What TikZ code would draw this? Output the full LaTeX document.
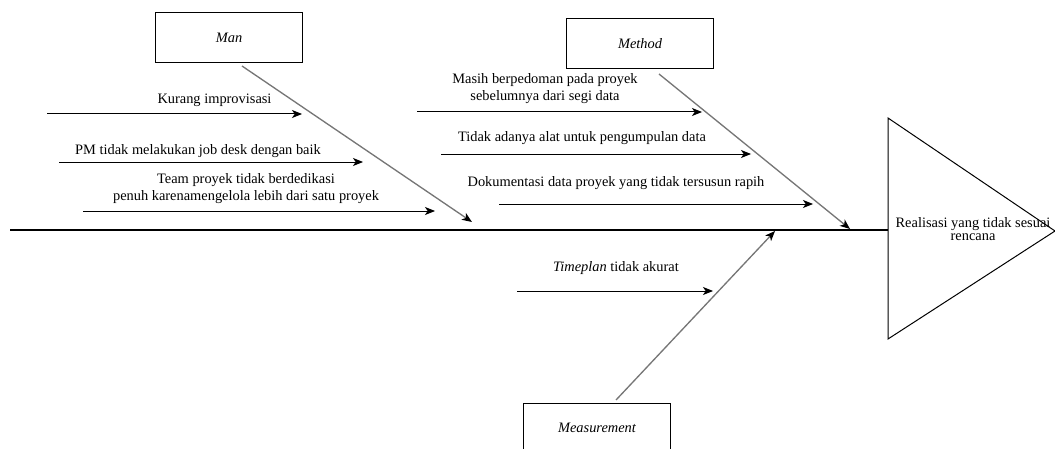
\documentclass[tikz,border=0pt]{standalone}
\usepackage{fontspec}
\setmainfont{Liberation Serif}
\usetikzlibrary{arrows.meta}
\tikzset{every picture/.style={line width=0.75pt}}
\tikzset{
  causearrow/.style={-{Stealth[length=7.5pt,width=6pt,inset=2pt]}},
  bonearrow/.style={color={rgb, 255:red, 118; green, 118; blue, 118}, line width=1pt,
    -{Stealth[length=7.5pt,width=6pt,inset=2pt,color=black]}},
  catbox/.style={draw, minimum width=110pt, minimum height=37.5pt, inner sep=0pt,
    font=\fontsize{10.8}{12}\selectfont\itshape},
  causetext/.style={align=center, inner sep=0pt, font=\fontsize{10.8}{12.75}\selectfont},
}

\begin{document}
\begin{tikzpicture}[x=0.75pt,y=0.75pt,yscale=-1,xscale=1]
		\useasboundingbox (0,0) rectangle (1055,449); %set diagram size 1055 x 449
		
		%Shape: Rectangle [id:dp2218730461195]
		\node [catbox] (man) at (229,38) {Man};
		%Shape: Rectangle [id:dp7730158402216]
		\node [catbox] (method) at (640,44) {Method};
		%Shape: Rectangle [id:dp5093361127784]
		\node [catbox] (measure) at (597,428) {Measurement};
		
		%Shape: Triangle [id:dp4419602736158]
		\draw (888,118) -- (1055,231) -- (888,339) -- cycle ;
		\coordinate (head) at (888,230);
		\node [causetext, font=\fontsize{10.8}{9.6}\selectfont] (effect) at (973,229) {Realisasi yang tidak sesuai\\rencana};
		
		%Straight Lines [id:da3301845527106] 
		\coordinate (tail) at (10,230);
		\draw [line width=1pt] (tail) -- (head) ;
		
		%Straight Lines [id:da8105537390214] 
		\coordinate (manfoot) at (242,66);
		\coordinate (mantip) at (472,222);
		\draw [bonearrow] (manfoot) -- (mantip) ;
		
		%Straight Lines [id:da6620943185571] 
		\coordinate (methodfoot) at (659,74);
		\coordinate (methodtip) at (850,229);
		\draw [bonearrow] (methodfoot) -- (methodtip) ;
		
		%Straight Lines [id:da1957026483302] 
		\coordinate (measurefoot) at (616,400);
		\coordinate (measuretip) at (775,231);
		\draw [bonearrow] (measurefoot) -- (measuretip) ;
		
		%Straight Lines [id:da4871203356612] 
		\coordinate (improvfrom) at (47,114);
		\coordinate (improvto) at (302,114);
		\draw [causearrow] (improvfrom) -- (improvto) ;
		\node [causetext, anchor=base] (improv) at (214.5,104) {Kurang improvisasi};
		
		%Straight Lines [id:da9034127765118] 
		\coordinate (jobfrom) at (59,162);
		\coordinate (jobto) at (363,162);
		\draw [causearrow] (jobfrom) -- (jobto) ;
		\node [causetext, anchor=base] (jobdesk) at (198,155) {PM tidak melakukan job desk dengan baik};
		
		%Straight Lines [id:da2745619083361] 
		\coordinate (teamfrom) at (83,211);
		\coordinate (teamto) at (435,211);
		\draw [causearrow] (teamfrom) -- (teamto) ;
		\node [causetext] (team) at (246,188.5) {Team proyek tidak berdedikasi\\penuh karenamengelola lebih dari satu proyek};
		
		%Straight Lines [id:da5582930714476] 
		\coordinate (oldfrom) at (417,112);
		\coordinate (oldto) at (702,112);
		\draw [causearrow] (oldfrom) -- (oldto) ;
		\node [causetext] (oldproj) at (545,89) {Masih berpedoman pada proyek\\sebelumnya dari segi data};
		
		%Straight Lines [id:da0396617258840] 
		\coordinate (toolfrom) at (441,154);
		\coordinate (toolto) at (751,154);
		\draw [causearrow] (toolfrom) -- (toolto) ;
		\node [causetext, anchor=base] (tool) at (582,141.5) {Tidak adanya alat untuk pengumpulan data};
		
		%Straight Lines [id:da7713259040825] 
		\coordinate (docfrom) at (499,204);
		\coordinate (docto) at (813,204);
		\draw [causearrow] (docfrom) -- (docto) ;
		\node [causetext, anchor=base] (doc) at (616,186) {Dokumentasi data proyek yang tidak tersusun rapih};
		
		%Straight Lines [id:da3864125597701] 
		\coordinate (planfrom) at (517,291);
		\coordinate (planto) at (713,291);
		\draw [causearrow] (planfrom) -- (planto) ;
		\node [causetext, anchor=base] (plan) at (616,271) {\textit{Timeplan} tidak akurat};
		
\end{tikzpicture}
\end{document}
